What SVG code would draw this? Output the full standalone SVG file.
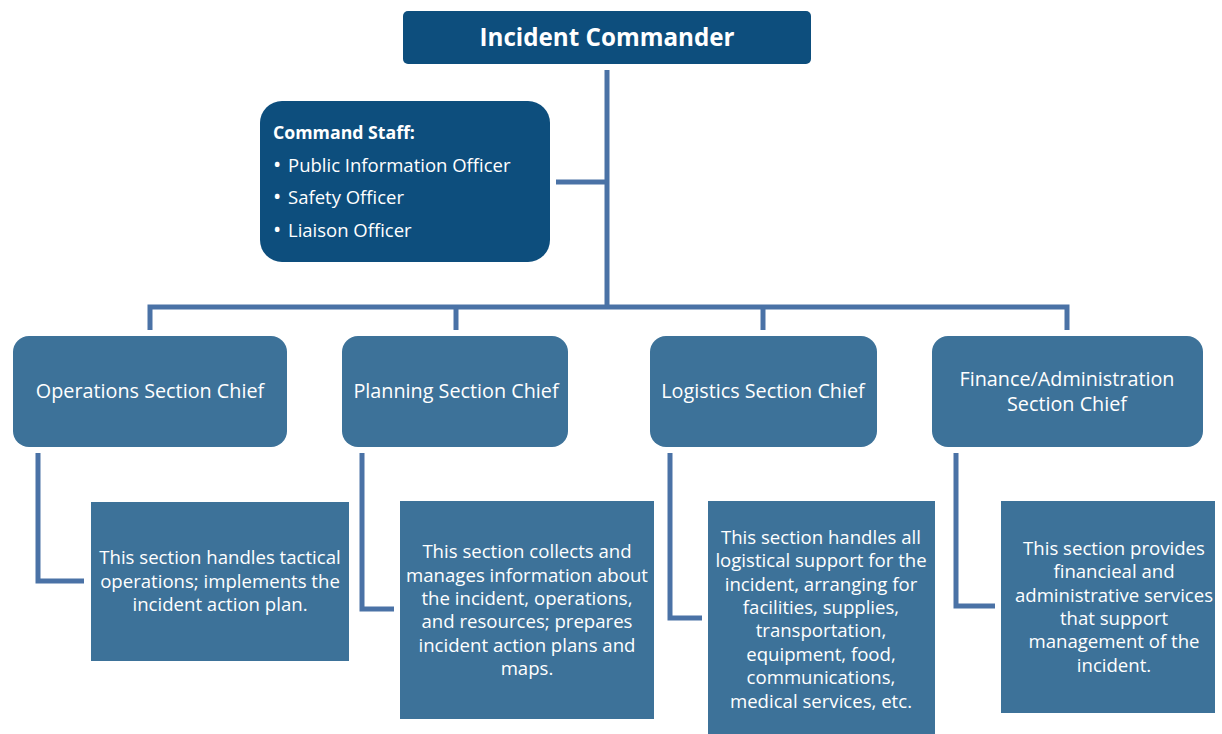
<svg xmlns="http://www.w3.org/2000/svg" width="1222" height="734" viewBox="0 0 1222 734">
<style>
.dark{fill:#0D4E7D;}
.sec{fill:#3D7299;}
.conn{fill:none;stroke:#4A72A6;stroke-width:5;}
text{font-family:"Open Sans","Liberation Sans",Arial,sans-serif;fill:#FFFFFF;}
.t{font-size:19.8px;text-anchor:middle;}
.d{font-size:18.6px;text-anchor:middle;}
.cs{font-size:18.5px;}
.b{font-size:22px;}
</style>
<rect width="1222" height="734" fill="#FFFFFF"/>
<g id="connectors">
<path class="conn" d="M607 70 V307"/>
<path class="conn" d="M556 182 H607"/>
<path class="conn" d="M150 330 V307 H1067 V330"/>
<path class="conn" d="M456 307 V330"/>
<path class="conn" d="M763 307 V330"/>
<path class="conn" d="M38 453 V581 H84"/>
<path class="conn" d="M362 453 V609 H394"/>
<path class="conn" d="M670 453 V618 H702"/>
<path class="conn" d="M956 453 V606 H995"/>
</g>
<g id="incident-commander">
<rect class="dark" x="403" y="11" width="408" height="53" rx="5"/>
<text x="607" y="46" style="font-size:24.2px;font-weight:bold;text-anchor:middle">Incident Commander</text>
</g>
<g id="command-staff">
<rect class="dark" x="260" y="101" width="290" height="161" rx="22"/>
<text x="273" y="139" style="font-size:17.7px;font-weight:bold">Command Staff:</text>
<text class="cs" x="273" y="172"><tspan class="b">•</tspan><tspan x="288">Public Information Officer</tspan></text>
<text class="cs" x="273" y="204"><tspan class="b">•</tspan><tspan x="288">Safety Officer</tspan></text>
<text class="cs" x="273" y="237"><tspan class="b">•</tspan><tspan x="288">Liaison Officer</tspan></text>
</g>
<g id="operations">
<rect class="sec" x="13" y="336" width="274" height="111" rx="16"/>
<text class="t" x="150" y="398">Operations Section Chief</text>
</g>
<g id="planning">
<rect class="sec" x="342" y="336" width="226" height="111" rx="16"/>
<text class="t" x="456" y="398">Planning Section Chief</text>
</g>
<g id="logistics">
<rect class="sec" x="650" y="336" width="227" height="111" rx="16"/>
<text class="t" x="763" y="398">Logistics Section Chief</text>
</g>
<g id="finance">
<rect class="sec" x="932" y="336" width="271" height="111" rx="16"/>
<text class="t" x="1067" y="386">Finance/Administration</text>
<text class="t" x="1067" y="411">Section Chief</text>
</g>
<g id="operations-desc">
<rect class="sec" x="91" y="502" width="258" height="159"/>
<text class="d" x="220" y="564">This section handles tactical</text>
<text class="d" x="220" y="588">operations; implements the</text>
<text class="d" x="220" y="611">incident action plan.</text>
</g>
<g id="planning-desc">
<rect class="sec" x="400" y="501" width="254" height="218"/>
<text class="d" x="527" y="558">This section  collects and</text>
<text class="d" x="527" y="582">manages information about</text>
<text class="d" x="527" y="605">the incident, operations,</text>
<text class="d" x="527" y="628">and resources; prepares</text>
<text class="d" x="527" y="652">incident action plans and</text>
<text class="d" x="527" y="675">maps.</text>
</g>
<g id="logistics-desc">
<rect class="sec" x="708" y="501" width="227" height="233"/>
<text class="d" x="821" y="544">This section handles all</text>
<text class="d" x="821" y="567">logistical support for the</text>
<text class="d" x="821" y="591">incident, arranging for</text>
<text class="d" x="821" y="614">facilities, supplies,</text>
<text class="d" x="821" y="637">transportation,</text>
<text class="d" x="821" y="661">equipment, food,</text>
<text class="d" x="821" y="684">communications,</text>
<text class="d" x="821" y="708">medical services, etc.</text>
</g>
<g id="finance-desc">
<rect class="sec" x="1001" y="501" width="214" height="212"/>
<text class="d" x="1114" y="555">This section provides</text>
<text class="d" x="1114" y="578">financieal and</text>
<text class="d" x="1114" y="602">administrative services</text>
<text class="d" x="1114" y="625">that support</text>
<text class="d" x="1114" y="648">management of the</text>
<text class="d" x="1114" y="672">incident.</text>
</g>
</svg>
